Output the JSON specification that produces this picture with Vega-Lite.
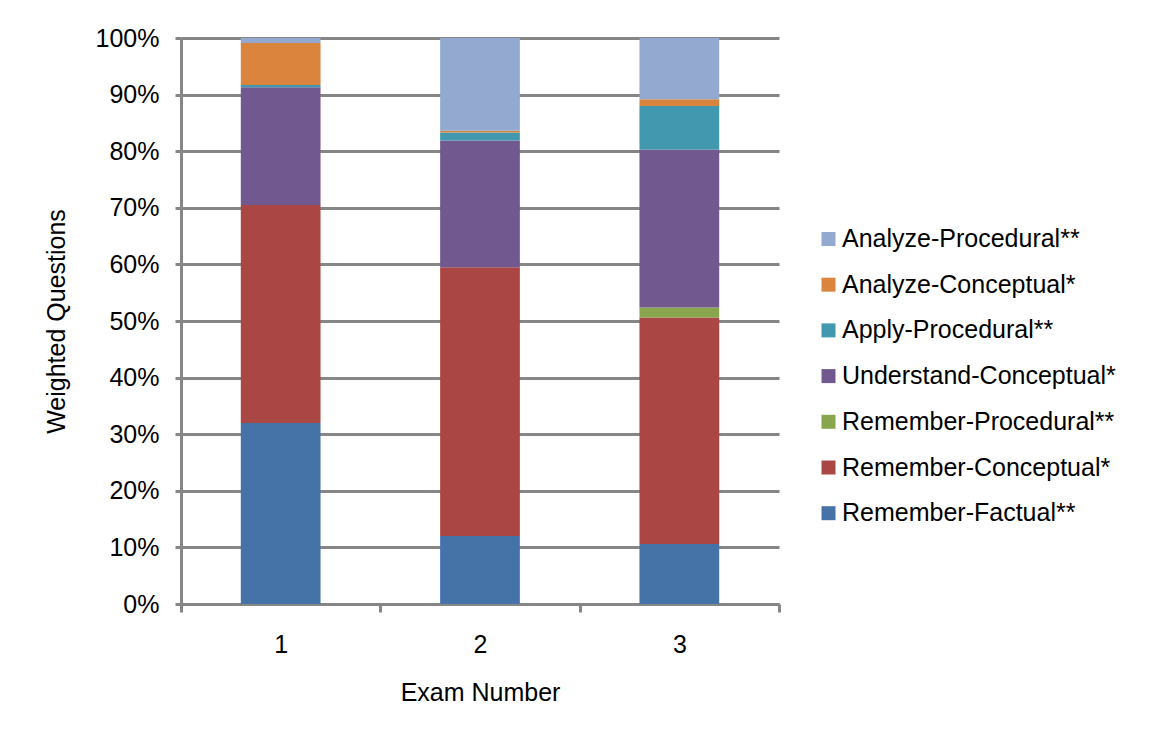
{
  "$schema": "https://vega.github.io/schema/vega-lite/v6.json",
  "autosize": "none",
  "width": 598,
  "height": 566,
  "padding": {"left": 181, "top": 38, "right": 377, "bottom": 134},
  "background": "#ffffff",
  "config": {
    "font": "Liberation Sans",
    "view": {"stroke": null},
    "axis": {
      "labelFont": "Liberation Sans",
      "titleFont": "Liberation Sans",
      "labelColor": "#000000",
      "titleColor": "#000000",
      "labelFontSize": 25,
      "titleFontSize": 25,
      "titleFontWeight": "normal",
      "domainColor": "#868686",
      "domainWidth": 3,
      "tickColor": "#868686",
      "tickWidth": 3,
      "gridColor": "#868686",
      "gridWidth": 3,
      "gridOpacity": 1
    },
    "legend": {
      "labelFont": "Liberation Sans",
      "labelFontSize": 25,
      "labelColor": "#000000",
      "labelLimit": 0
    }
  },
  "data": {
    "values": [
      {"exam": "1", "category": "Remember-Factual**", "rank": 1, "pct": 32.0},
      {"exam": "1", "category": "Remember-Conceptual*", "rank": 2, "pct": 38.5},
      {"exam": "1", "category": "Remember-Procedural**", "rank": 3, "pct": 0},
      {"exam": "1", "category": "Understand-Conceptual*", "rank": 4, "pct": 20.8},
      {"exam": "1", "category": "Apply-Procedural**", "rank": 5, "pct": 0.4},
      {"exam": "1", "category": "Analyze-Conceptual*", "rank": 6, "pct": 7.4},
      {"exam": "1", "category": "Analyze-Procedural**", "rank": 7, "pct": 0.9},
      {"exam": "2", "category": "Remember-Factual**", "rank": 1, "pct": 12.0},
      {"exam": "2", "category": "Remember-Conceptual*", "rank": 2, "pct": 47.5},
      {"exam": "2", "category": "Remember-Procedural**", "rank": 3, "pct": 0},
      {"exam": "2", "category": "Understand-Conceptual*", "rank": 4, "pct": 22.4},
      {"exam": "2", "category": "Apply-Procedural**", "rank": 5, "pct": 1.4},
      {"exam": "2", "category": "Analyze-Conceptual*", "rank": 6, "pct": 0.3},
      {"exam": "2", "category": "Analyze-Procedural**", "rank": 7, "pct": 16.4},
      {"exam": "3", "category": "Remember-Factual**", "rank": 1, "pct": 10.6},
      {"exam": "3", "category": "Remember-Conceptual*", "rank": 2, "pct": 40.0},
      {"exam": "3", "category": "Remember-Procedural**", "rank": 3, "pct": 1.8},
      {"exam": "3", "category": "Understand-Conceptual*", "rank": 4, "pct": 27.9},
      {"exam": "3", "category": "Apply-Procedural**", "rank": 5, "pct": 7.7},
      {"exam": "3", "category": "Analyze-Conceptual*", "rank": 6, "pct": 1.2},
      {"exam": "3", "category": "Analyze-Procedural**", "rank": 7, "pct": 10.8}
    ]
  },
  "mark": {"type": "bar", "width": {"band": 0.4}},
  "encoding": {
    "x": {
      "field": "exam",
      "type": "ordinal",
      "scale": {"paddingInner": 0, "paddingOuter": 0},
      "axis": {
        "title": "Exam Number",
        "labelAngle": 0,
        "tickBand": "extent",
        "tickSize": 8,
        "labelPadding": 20,
        "titlePadding": 23,
        "grid": false
      }
    },
    "y": {
      "field": "pct",
      "type": "quantitative",
      "stack": "zero",
      "scale": {"domain": [0, 100], "nice": false},
      "axis": {
        "title": "Weighted Questions",
        "values": [0, 10, 20, 30, 40, 50, 60, 70, 80, 90, 100],
        "labelExpr": "datum.value + '%'",
        "tickSize": 6,
        "labelPadding": 16,
        "titlePadding": 26,
        "grid": true
      }
    },
    "color": {
      "field": "category",
      "type": "nominal",
      "scale": {
        "domain": [
          "Analyze-Procedural**",
          "Analyze-Conceptual*",
          "Apply-Procedural**",
          "Understand-Conceptual*",
          "Remember-Procedural**",
          "Remember-Conceptual*",
          "Remember-Factual**"
        ],
        "range": ["#93A9CF", "#DB843D", "#4198AF", "#71588F", "#89A54E", "#AA4643", "#4572A7"]
      },
      "legend": {
        "title": null,
        "orient": "none",
        "legendX": 635,
        "legendY": 188.5,
        "symbolType": "square",
        "symbolSize": 196,
        "symbolStrokeWidth": 0,
        "labelOffset": 1,
        "rowPadding": 19.7
      }
    },
    "order": {"field": "rank", "type": "quantitative"}
  }
}
